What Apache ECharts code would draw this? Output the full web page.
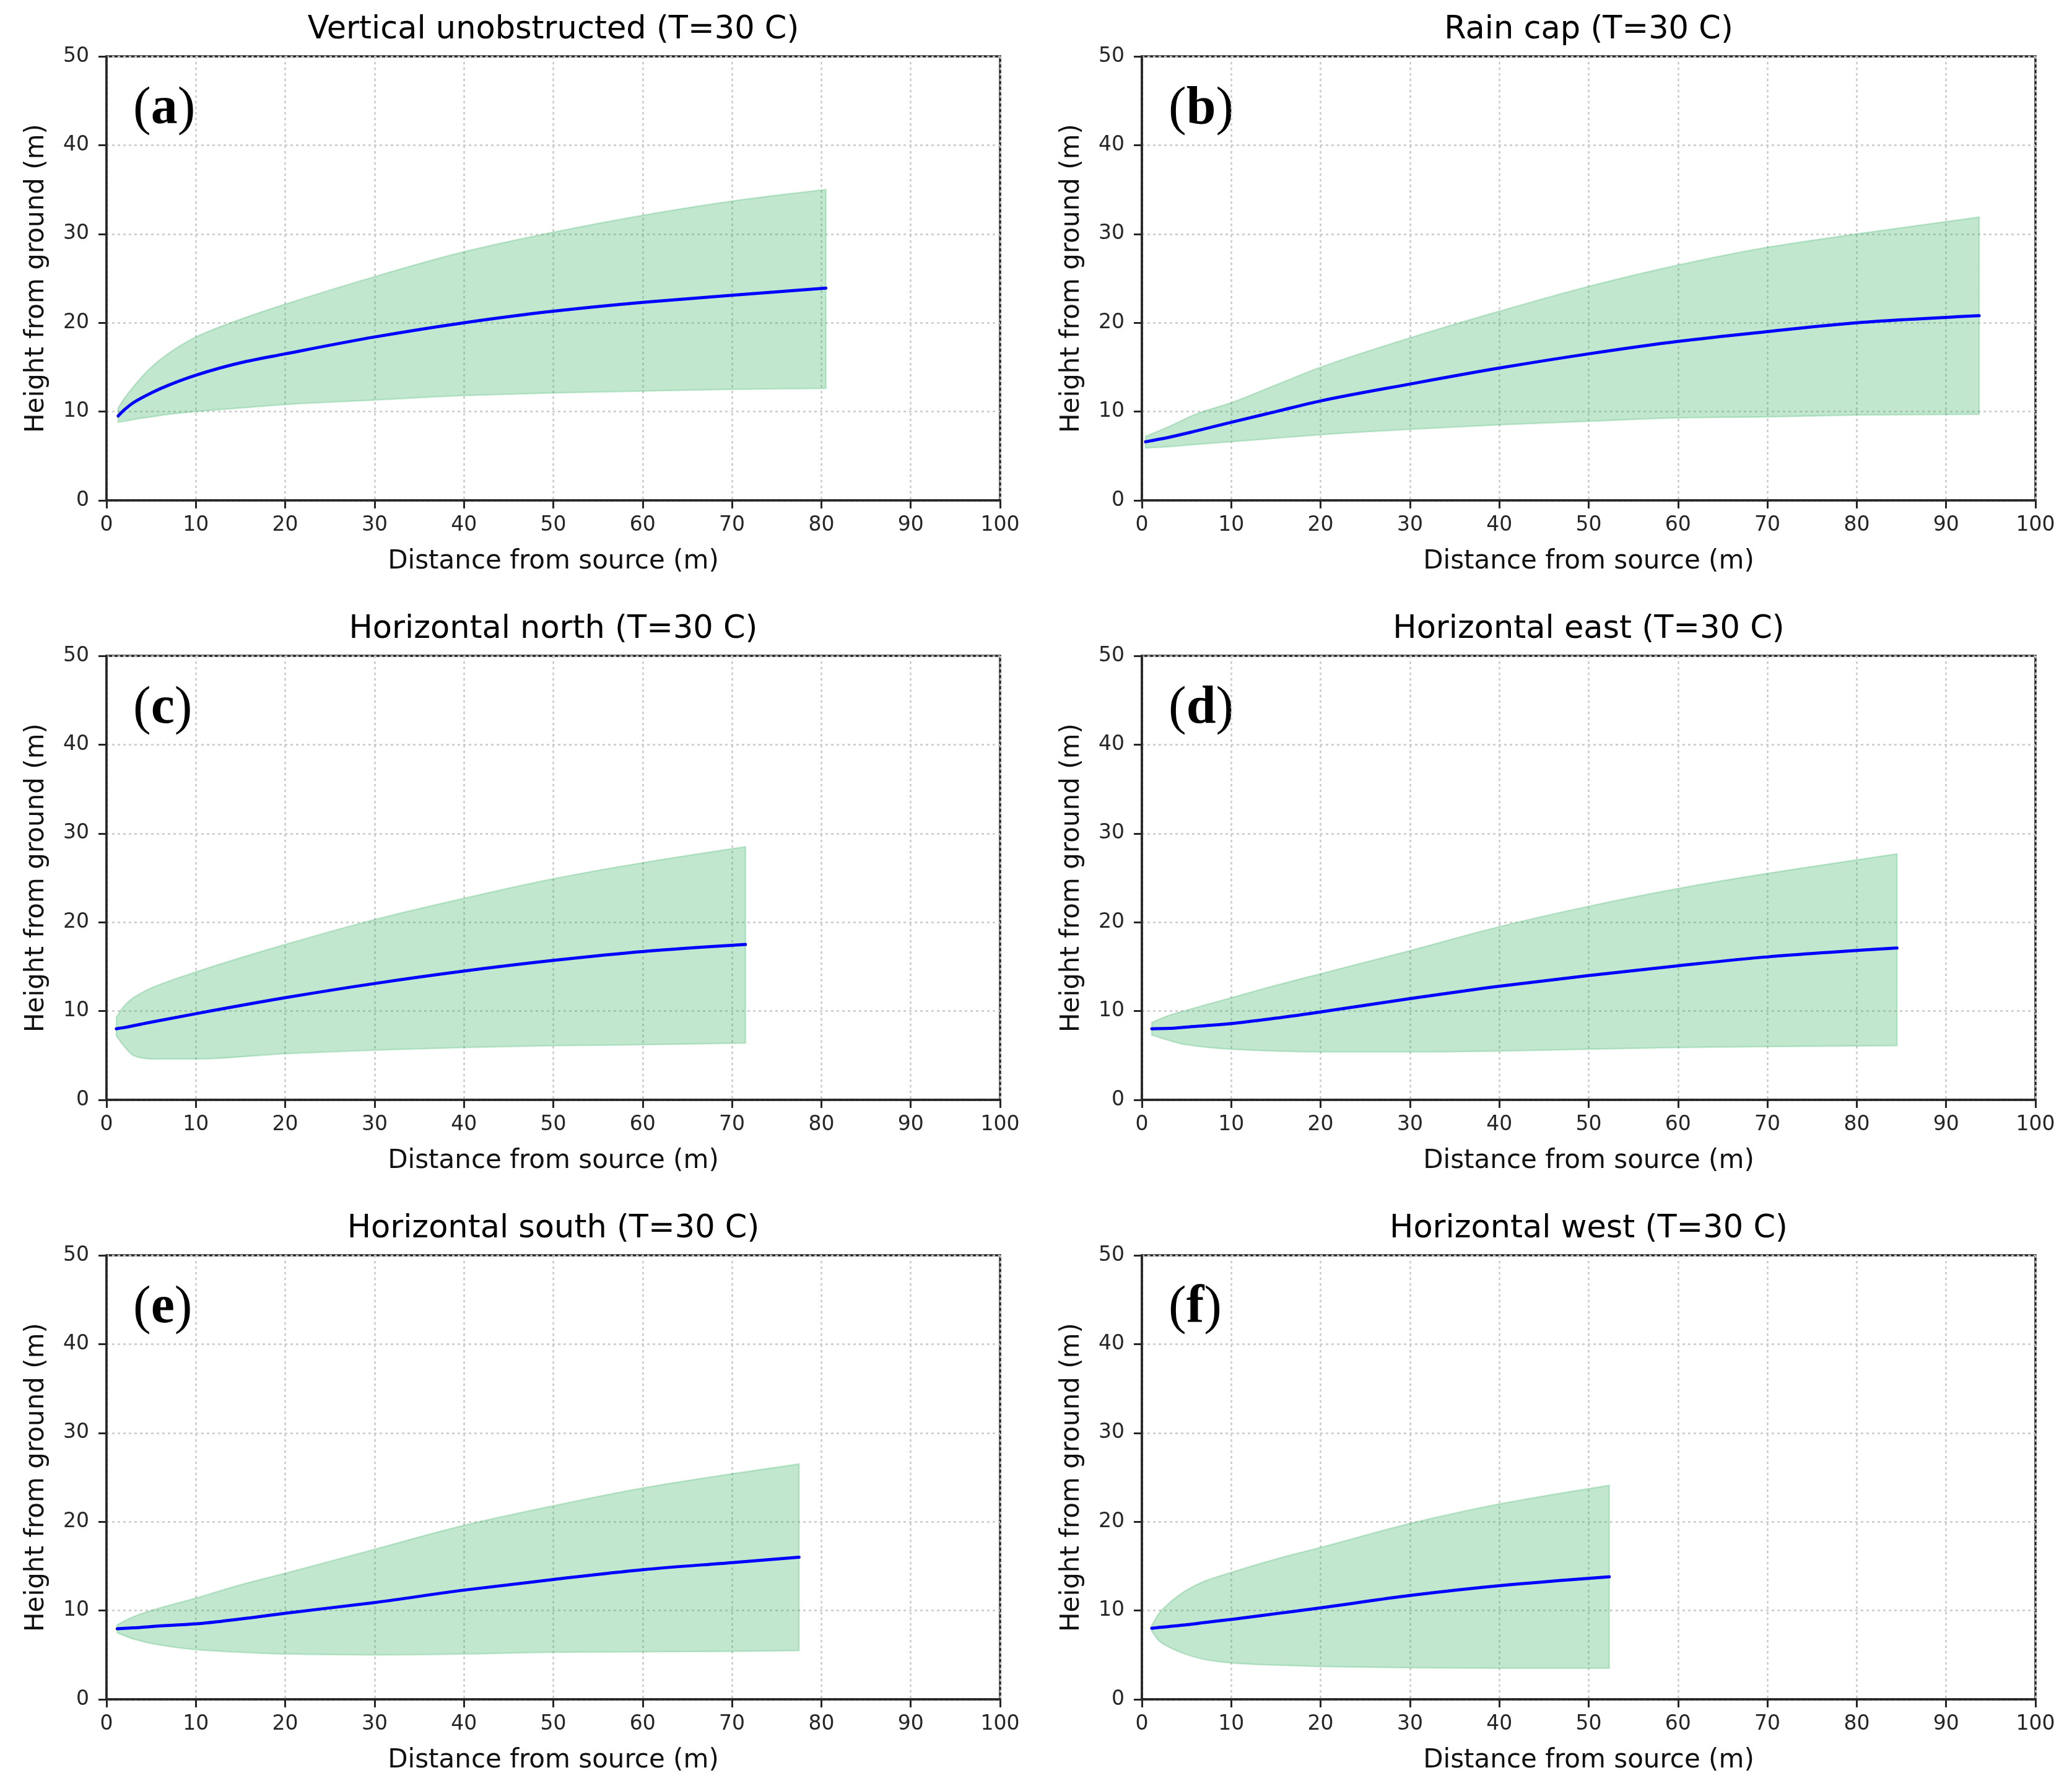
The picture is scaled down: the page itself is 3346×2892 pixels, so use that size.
<!DOCTYPE html>
<html><head><meta charset="utf-8">
<script src="https://cdn.jsdelivr.net/npm/echarts@6/dist/echarts.min.js"></script>
<style>html,body{margin:0;padding:0;background:#fff}#c{width:3346px;height:2892px}</style>
</head><body><div id="c"></div>
<script>
// ---- data ----
const titles = ['Vertical unobstructed (T=30 C)', 'Rain cap (T=30 C)', 'Horizontal north (T=30 C)',
                'Horizontal east (T=30 C)', 'Horizontal south (T=30 C)', 'Horizontal west (T=30 C)'];
const panelLetters = ['a', 'b', 'c', 'd', 'e', 'f'];
const xAxisName = 'Distance from source (m)';
const yAxisName = 'Height from ground (m)';

const aX   = [1.3, 2, 3, 5, 7, 10, 15, 20, 30, 40, 50, 60, 70, 80.5];
const aMid = [9.5, 10.2, 11.0, 12.1, 13.0, 14.1, 15.5, 16.5, 18.4, 20.0, 21.3, 22.3, 23.1, 23.9];
const aUp  = [10.4, 11.5, 12.8, 15.0, 16.6, 18.4, 20.4, 22.1, 25.2, 28.0, 30.2, 32.1, 33.7, 35.0];
const aLo  = [8.8, 8.9, 9.1, 9.4, 9.7, 10.0, 10.4, 10.8, 11.3, 11.8, 12.1, 12.3, 12.5, 12.6];

const bX   = [0.4, 3, 6, 10, 15, 20, 30, 40, 50, 60, 70, 80, 93.7];
const bMid = [6.6, 7.1, 7.8, 8.8, 10.0, 11.2, 13.1, 14.9, 16.5, 17.9, 19.0, 20.0, 20.8];
const bUp  = [7.2, 8.3, 9.7, 11.0, 13.0, 15.0, 18.3, 21.3, 24.1, 26.5, 28.5, 30.0, 31.9];
const bLo  = [5.9, 6.05, 6.3, 6.6, 7.0, 7.4, 8.0, 8.5, 8.9, 9.3, 9.4, 9.6, 9.7];

const cX   = [1.1, 2, 3, 4, 5, 10, 20, 30, 40, 50, 60, 71.5];
const cMid = [8.0, 8.15, 8.35, 8.55, 8.75, 9.7, 11.5, 13.1, 14.5, 15.7, 16.7, 17.5];
const cUp  = [9.3, 10.6, 11.5, 12.1, 12.6, 14.4, 17.5, 20.3, 22.7, 24.9, 26.7, 28.5];
const cLo  = [7.2, 6.0, 5.0, 4.7, 4.6, 4.6, 5.2, 5.6, 5.9, 6.1, 6.2, 6.4];

const dX   = [1.1, 3, 5, 10, 15, 20, 30, 40, 50, 60, 70, 84.5];
const dMid = [8.0, 8.05, 8.2, 8.6, 9.2, 9.9, 11.4, 12.8, 14.0, 15.1, 16.1, 17.1];
const dUp  = [8.7, 9.5, 10.1, 11.5, 12.9, 14.2, 16.8, 19.5, 21.8, 23.8, 25.5, 27.7];
const dLo  = [7.3, 6.7, 6.2, 5.7, 5.5, 5.4, 5.4, 5.5, 5.7, 5.9, 6.0, 6.1];

const eX   = [1.2, 3, 5, 10, 15, 20, 30, 40, 50, 60, 70, 77.5];
const eMid = [7.95, 8.05, 8.2, 8.5, 9.05, 9.7, 10.9, 12.3, 13.5, 14.6, 15.4, 16.0];
const eUp  = [8.4, 9.3, 10.0, 11.4, 12.9, 14.2, 16.9, 19.6, 21.8, 23.8, 25.4, 26.5];
const eLo  = [7.5, 6.8, 6.3, 5.6, 5.3, 5.1, 5.0, 5.1, 5.3, 5.35, 5.4, 5.5];

const fX   = [1.1, 2, 3, 5, 7, 10, 15, 20, 30, 40, 52.3];
const fMid = [8.0, 8.1, 8.2, 8.4, 8.65, 9.0, 9.65, 10.3, 11.7, 12.8, 13.8];
const fUp  = [8.3, 9.8, 10.8, 12.3, 13.3, 14.3, 15.8, 17.1, 19.8, 22.0, 24.1];
const fLo  = [7.7, 6.5, 5.9, 5.05, 4.5, 4.1, 3.85, 3.7, 3.55, 3.5, 3.5];

const panels = [
  {x: aX, mid: aMid, up: aUp, lo: aLo},
  {x: bX, mid: bMid, up: bUp, lo: bLo},
  {x: cX, mid: cMid, up: cUp, lo: cLo},
  {x: dX, mid: dMid, up: dUp, lo: dLo},
  {x: eX, mid: eMid, up: eUp, lo: eLo},
  {x: fX, mid: fMid, up: fUp, lo: fLo}
];

// ---- layout / style ----
const FONT = '"DejaVu Sans", sans-serif';
const lefts = [172, 1844];
const tops = [91, 1059, 2027];
const W = 1443, H = 717;
const frame = '#262626';
const fillColor = 'rgba(50,175,95,0.3)';
const edgeColor = 'rgba(50,175,95,0.25)';

// monotone cubic (in x) bezier segments through pixel points
function monoSegments(pts) {
  const n = pts.length, h = [], m = [], t = [];
  for (let i = 0; i < n - 1; i++) {
    h[i] = pts[i + 1][0] - pts[i][0];
    m[i] = (pts[i + 1][1] - pts[i][1]) / h[i];
  }
  for (let i = 1; i < n - 1; i++) {
    t[i] = (m[i - 1] * m[i] <= 0) ? 0 :
      3 * (h[i - 1] + h[i]) / ((2 * h[i] + h[i - 1]) / m[i - 1] + (h[i] + 2 * h[i - 1]) / m[i]);
  }
  t[0] = n > 2 ? (3 * m[0] - t[1]) / 2 : m[0];
  t[n - 1] = n > 2 ? (3 * m[n - 2] - t[n - 2]) / 2 : m[0];
  const segs = [];
  for (let i = 0; i < n - 1; i++) {
    const d = h[i] / 3;
    segs.push([pts[i], [pts[i][0] + d, pts[i][1] + t[i] * d],
               [pts[i + 1][0] - d, pts[i + 1][1] - t[i + 1] * d], pts[i + 1]]);
  }
  return segs;
}
const f2 = v => v.toFixed(2);
const cStr = s => 'C' + f2(s[1][0]) + ',' + f2(s[1][1]) + ' ' + f2(s[2][0]) + ',' + f2(s[2][1]) + ' ' + f2(s[3][0]) + ',' + f2(s[3][1]);

const grid = [], xAxis = [], yAxis = [], series = [], graphic = [];
panels.forEach((p, i) => {
  const left = lefts[i % 2], top = tops[Math.floor(i / 2)];
  grid.push({left: left, top: top, width: W, height: H, show: true,
    borderColor: frame, borderWidth: 3.5, backgroundColor: 'transparent'});
  const common = {
    gridIndex: i, type: 'value', nameLocation: 'middle',
    nameTextStyle: {fontFamily: FONT, fontSize: 42, color: '#111'},
    axisLine: {show: true, onZero: false, lineStyle: {color: frame, width: 3.5}},
    axisTick: {show: true, inside: false, length: 13, lineStyle: {color: frame, width: 3}},
    axisLabel: {fontFamily: FONT, fontSize: 33, color: '#262626'},
    splitLine: {show: true, lineStyle: {color: '#c9c9c9', width: 2.5, type: [4, 5]}}
  };
  xAxis.push(Object.assign({}, common, {min: 0, max: 100, interval: 10, name: xAxisName, nameGap: 78,
    axisLabel: Object.assign({}, common.axisLabel, {margin: 24})}));
  yAxis.push(Object.assign({}, common, {min: 0, max: 50, interval: 10, name: yAxisName, nameGap: 92,
    axisLabel: Object.assign({}, common.axisLabel, {margin: 28})}));

  // shaded band between lower and upper bounds
  series.push({
    type: 'custom', coordinateSystem: 'cartesian2d', xAxisIndex: i, yAxisIndex: i,
    silent: true, animation: false, z: 2,
    data: p.x.map((v, j) => [v, p.lo[j], p.up[j]]),
    encode: {x: 0, y: [1, 2]},
    renderItem: (params, api) => {
      if (params.dataIndex !== 0) return null;
      const upPts = p.x.map((v, j) => api.coord([v, p.up[j]]));
      const loPts = p.x.map((v, j) => api.coord([v, p.lo[j]]));
      const us = monoSegments(upPts), ls = monoSegments(loPts);
      let d = 'M' + f2(upPts[0][0]) + ',' + f2(upPts[0][1]);
      us.forEach(s => { d += cStr(s); });
      const last = loPts[loPts.length - 1];
      d += 'L' + f2(last[0]) + ',' + f2(last[1]);
      for (let k = ls.length - 1; k >= 0; k--) {
        const s = ls[k];
        d += cStr([s[3], s[2], s[1], s[0]]);
      }
      d += 'Z';
      return {type: 'path', shape: {pathData: d},
        style: {fill: fillColor, stroke: edgeColor, lineWidth: 2.5}};
    }
  });
  // centreline
  series.push({
    type: 'custom', coordinateSystem: 'cartesian2d', xAxisIndex: i, yAxisIndex: i,
    silent: true, animation: false, z: 3,
    data: p.x.map((v, j) => [v, p.mid[j]]),
    encode: {x: 0, y: 1},
    renderItem: (params, api) => {
      if (params.dataIndex !== 0) return null;
      const pts = p.x.map((v, j) => api.coord([v, p.mid[j]]));
      let d = 'M' + f2(pts[0][0]) + ',' + f2(pts[0][1]);
      monoSegments(pts).forEach(s => { d += cStr(s); });
      return {type: 'path', shape: {pathData: d},
        style: {fill: null, stroke: '#0000ff', lineWidth: 5, lineCap: 'round'}};
    }
  });

  graphic.push({type: 'text', x: left + W / 2, y: top - 42, silent: true,
    style: {text: titles[i], font: '51px ' + FONT, fill: '#000', align: 'center', verticalAlign: 'middle'}});
  graphic.push({type: 'text', x: left + 43, y: top + 86, silent: true,
    style: {text: '{p|(}{b|' + panelLetters[i] + '}{p|)}', align: 'left', verticalAlign: 'middle',
      rich: {
        p: {fontFamily: '"Liberation Serif", serif', fontSize: 86, fontWeight: 'normal', fill: '#000'},
        b: {fontFamily: '"Liberation Serif", serif', fontSize: 86, fontWeight: 'bold', fill: '#000'}
      }}});
});

const chart = echarts.init(document.getElementById('c'), null, {renderer: 'canvas'});
chart.setOption({
  backgroundColor: '#fff', animation: false,
  grid: grid, xAxis: xAxis, yAxis: yAxis, series: series, graphic: graphic
});
</script></body></html>
